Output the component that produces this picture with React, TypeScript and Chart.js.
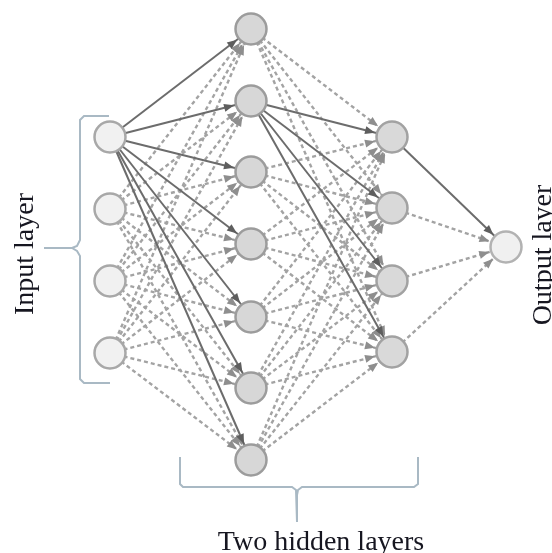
import React, { useEffect, useRef } from "react";
import { Chart, registerables } from "chart.js";

Chart.register(...registerables);

// Diagram data (canvas-unit coordinates on linear scales)
const layerX = [110, 251, 392, 506];
const inputY = [137, 209, 281, 353];
const hidden1Y = [29, 101, 172, 244, 317, 388, 460];
const hidden2Y = [137, 208, 281, 352];
const outputY = [247];
// index of the source node whose outgoing edges are drawn solid, per layer transition
const solidSource = [0, 1, 0];

const inputBracket = [
  { x: 109, y: 116 }, { x: 84, y: 116 }, { x: 80, y: 120 }, { x: 80, y: 240 },
  { x: 77, y: 246 }, { x: 72, y: 248 }, { x: 44, y: 248 }, { x: 72, y: 248 },
  { x: 77, y: 251 }, { x: 80, y: 256 }, { x: 80, y: 379 }, { x: 84, y: 383 },
  { x: 110, y: 383 },
];
const hiddenBracket = [
  { x: 180, y: 457 }, { x: 180, y: 484 }, { x: 183, y: 487 }, { x: 292, y: 487 },
  { x: 296, y: 490 }, { x: 297, y: 495 }, { x: 297, y: 522 }, { x: 297, y: 495 },
  { x: 298, y: 490 }, { x: 302, y: 487 }, { x: 414, y: 487 }, { x: 418, y: 484 },
  { x: 418, y: 457 },
];

const labelTexts = ["Input layer", "Output layer", "Two hidden layers"];
const labelPos = [
  { x: 33, y: 254, rot: -90 },
  { x: 551, y: 255, rot: -90 },
  { x: 321, y: 550, rot: 0 },
];

const layers = [inputY, hidden1Y, hidden2Y, outputY];

export default function App() {
  const ref = useRef<HTMLCanvasElement | null>(null);

  useEffect(() => {
    if (!ref.current) return;
    const nodes = layers.map((ys, li) => ys.map((y) => ({ x: layerX[li], y })));
    const edges: { a: { x: number; y: number }; b: { x: number; y: number }; solid: boolean }[] = [];
    for (let li = 0; li < nodes.length - 1; li++) {
      nodes[li].forEach((a, si) => {
        nodes[li + 1].forEach((b) => {
          edges.push({ a, b, solid: si === solidSource[li] });
        });
      });
    }

    const R = 15.5;
    const nodeFill = ["#f1f1f1", "#d7d7d7", "#d9d9d9", "#f0f0f0"];
    const nodeBorder = ["#a8a8a8", "#9c9c9c", "#a2a2a2", "#b2b2b2"];

    const datasets: any[] = [];
    nodes.forEach((pts, li) => {
      datasets.push({
        type: "scatter",
        data: pts,
        showLine: false,
        pointRadius: R,
        pointHoverRadius: R,
        pointBackgroundColor: nodeFill[li],
        pointBorderColor: nodeBorder[li],
        pointBorderWidth: 2.5,
        order: 0,
      });
    });
    edges.forEach((e) => {
      datasets.push({
        type: "scatter",
        data: [e.a, e.b],
        showLine: true,
        pointRadius: 0,
        borderColor: e.solid ? "#6c6c6c" : "#a3a3a3",
        borderWidth: e.solid ? 2 : 2.4,
        borderDash: e.solid ? [] : [4, 3],
        order: e.solid ? 1 : 2,
      });
    });
    [inputBracket, hiddenBracket].forEach((b) => {
      datasets.push({
        type: "scatter",
        data: b,
        showLine: true,
        pointRadius: 0,
        borderColor: "#a9b9c4",
        borderWidth: 2,
        order: 3,
      });
    });

    const arrowPlugin = {
      id: "arrows",
      afterDatasetsDraw(chart: any) {
        const ctx = chart.ctx;
        const xs = chart.scales.x;
        const ys = chart.scales.y;
        ctx.save();
        const draw = (solid: boolean) => {
          edges.filter((e) => e.solid === solid).forEach((e) => {
            const ax = xs.getPixelForValue(e.a.x);
            const ay = ys.getPixelForValue(e.a.y);
            const bx = xs.getPixelForValue(e.b.x);
            const by = ys.getPixelForValue(e.b.y);
            const dx = bx - ax;
            const dy = by - ay;
            const len = Math.hypot(dx, dy);
            const ux = dx / len;
            const uy = dy / len;
            const tipx = bx - ux * (R + 2);
            const tipy = by - uy * (R + 2);
            const L = 10;
            const W = 4;
            const bxp = tipx - ux * L;
            const byp = tipy - uy * L;
            ctx.beginPath();
            ctx.moveTo(tipx, tipy);
            ctx.lineTo(bxp - uy * W, byp + ux * W);
            ctx.lineTo(bxp + uy * W, byp - ux * W);
            ctx.closePath();
            ctx.fillStyle = solid ? "#5e5e5e" : "#8e8e8e";
            ctx.fill();
          });
        };
        draw(false);
        draw(true);
        ctx.restore();
      },
    };

    const textPlugin = {
      id: "labels",
      afterDraw(chart: any) {
        const ctx = chart.ctx;
        const xs = chart.scales.x;
        const ys = chart.scales.y;
        ctx.save();
        ctx.font = '28px "Liberation Serif", "Times New Roman", serif';
        ctx.fillStyle = "#161620";
        ctx.textAlign = "center";
        ctx.textBaseline = "alphabetic";
        labelTexts.forEach((t, i) => {
          const p = labelPos[i];
          ctx.save();
          ctx.translate(xs.getPixelForValue(p.x), ys.getPixelForValue(p.y));
          ctx.rotate((p.rot * Math.PI) / 180);
          ctx.fillText(t, 0, 0);
          ctx.restore();
        });
        ctx.restore();
      },
    };

    const chart = new Chart(ref.current, {
      type: "scatter",
      data: { datasets },
      options: {
        animation: false,
        responsive: false,
        events: [],
        layout: { padding: 0, autoPadding: false },
        plugins: { legend: { display: false }, tooltip: { enabled: false } },
        scales: {
          x: { type: "linear", min: 0, max: 552, display: false },
          y: { type: "linear", min: 0, max: 553, reverse: true, display: false },
        },
      },
      plugins: [arrowPlugin, textPlugin],
    } as any);
    return () => chart.destroy();
  }, []);

  return (
    <div style={{ position: "absolute", left: 0, top: 0, width: 552, height: 553, background: "#fff" }}>
      <canvas ref={ref} width={552} height={553} style={{ width: 552, height: 553, display: "block" }} />
    </div>
  );
}
